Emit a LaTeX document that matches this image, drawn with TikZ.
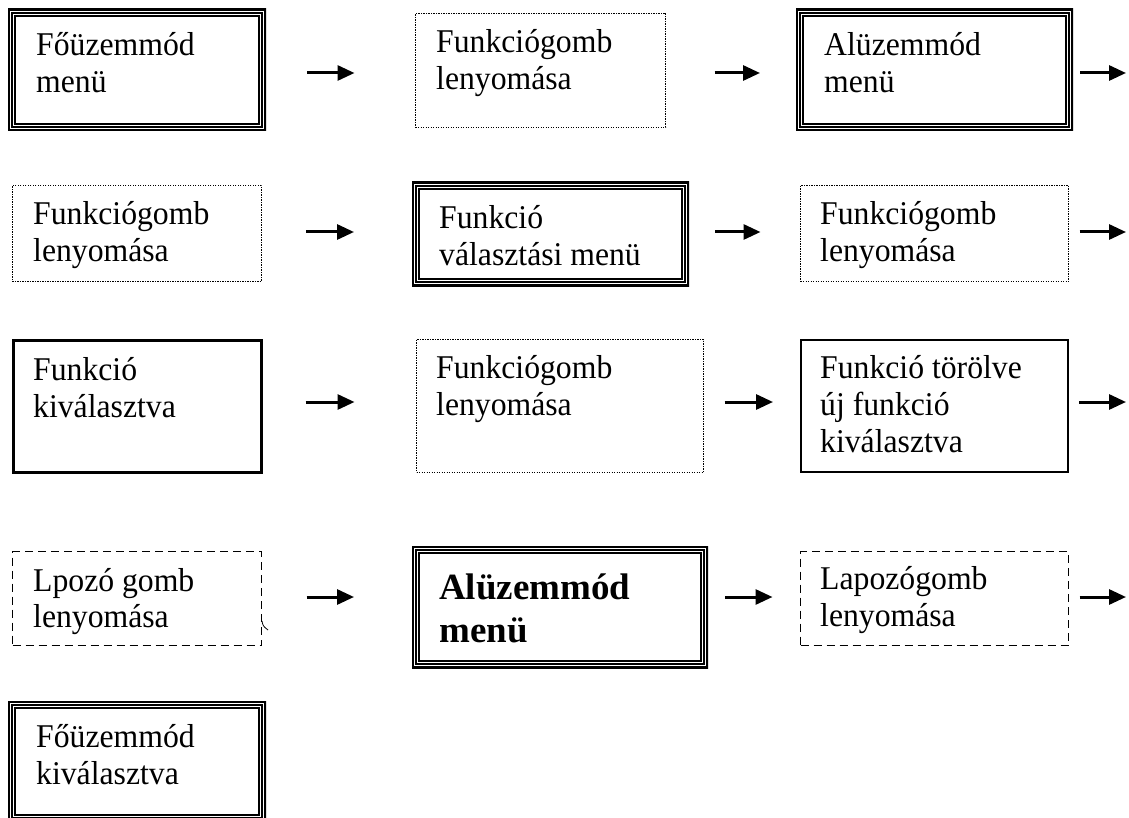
\documentclass[tikz,border=0pt]{standalone}
\usepackage{fontspec}
\setmainfont{Liberation Serif}
\newfontfamily\narrowserif[FakeStretch=0.955]{Liberation Serif}
\usetikzlibrary{arrows.meta}
\begin{document}
\begin{tikzpicture}[x=1pt,y=-1pt,
  box/.style={rectangle, inner sep=0pt, outer sep=0pt},
  tripleframe/.style={box, fill=white, path picture={
    \draw[line width=4.8pt] (path picture bounding box.north west) rectangle (path picture bounding box.south east);
    \draw[line width=1.1pt] ([shift={(4pt,-4pt)}]path picture bounding box.north west) rectangle ([shift={(-4pt,4pt)}]path picture bounding box.south east);
    \draw[line width=2.3pt] ([shift={(6.9pt,-6.9pt)}]path picture bounding box.north west) rectangle ([shift={(-6.9pt,6.9pt)}]path picture bounding box.south east);
  }},
  dotframe/.style={box, draw, line width=1.5pt, dash pattern=on 1.3pt off 1.2pt},
  dashframe/.style={box, draw, line width=1.7pt, dash pattern=on 8pt off 5pt},
  solidframe/.style={box, draw, line width=2.7pt},
  thinframe/.style={box, draw, line width=2pt},
  txt/.style={anchor=north west, inner sep=0pt, align=left, font=\narrowserif\fontsize{33.2}{37.5}\selectfont},
  boldtxt/.style={txt, font=\fontsize{37}{43}\selectfont\bfseries},
  arr/.style={line width=3pt, -{Triangle[length=17pt,width=15pt]}},
]
\fill[white] (0,0) rectangle (1129,818);
\useasboundingbox (0,0) rectangle (1129,818);

% row 1
\node[tripleframe, minimum width=258pt, minimum height=122pt] (A) at (137,70) {};
\node[txt] (tA) at (36,27) {\rule{0pt}{28pt}Főüzemmód\\menü};
\node[dotframe, minimum width=250pt, minimum height=114pt] (B) at (540.5,70.3) {};
\node[txt] (tB) at (436,24) {\rule{0pt}{28pt}Funkciógomb\\lenyomása};
\node[tripleframe, minimum width=277pt, minimum height=122pt] (C) at (934.5,70) {};
\node[txt] (tC) at (824,27) {\rule{0pt}{28pt}Alüzemmód\\menü};
\coordinate (e1) at (1126,73);

% row 2
\node[dotframe, minimum width=249pt, minimum height=96pt] (D) at (136.9,233.5) {};
\node[txt] (tD) at (33,196) {\rule{0pt}{28pt}Funkciógomb\\lenyomása};
\node[tripleframe, minimum width=277pt, minimum height=104pt] (E) at (550.5,234) {};
\node[txt] (tE) at (439,200) {\rule{0pt}{28pt}Funkció\\választási menü};
\node[dotframe, minimum width=268pt, minimum height=96pt] (F) at (934.5,233.5) {};
\node[txt] (tF) at (820,196) {\rule{0pt}{28pt}Funkciógomb\\lenyomása};
\coordinate (e2) at (1126,232);

% row 3
\node[solidframe, minimum width=248pt, minimum height=132pt] (G) at (137.5,406.5) {};
\node[txt] (tG) at (33,352) {\rule{0pt}{28pt}Funkció\\kiválasztva};
\node[dotframe, minimum width=287pt, minimum height=133pt] (H) at (560,406) {};
\node[txt] (tH) at (436,350) {\rule{0pt}{28pt}Funkciógomb\\lenyomása};
\node[thinframe, minimum width=267pt, minimum height=132pt] (I) at (934.5,406) {};
\node[txt, font=\narrowserif\fontsize{33.2}{37}\selectfont] (tI) at (820,350) {\rule{0pt}{28pt}Funkció törölve\\új funkció\\kiválasztva};
\coordinate (e3) at (1126,402);

% row 4
\node[dashframe, minimum width=249pt, minimum height=94pt] (J) at (137,598.5) {};
\node[txt, font=\narrowserif\fontsize{33.2}{36.5}\selectfont] (tJ) at (33,563) {\rule{0pt}{28pt}Lpozó gomb\\lenyomása};
\draw[line width=0.8pt] (262,621) .. controls (263,626) .. (268,630);
\node[tripleframe, minimum width=296pt, minimum height=122pt] (K) at (560,607) {};
\node[boldtxt] (tK) at (439,567) {\rule{0pt}{32pt}Alüzemmód\\menü};
\node[dashframe, minimum width=268pt, minimum height=94pt] (M) at (934.5,598.5) {};
\node[txt] (tM) at (820,561) {\rule{0pt}{28pt}Lapozógomb\\lenyomása};
\coordinate (e4) at (1126,597);

% row 5
\node[tripleframe, minimum width=258pt, minimum height=121pt] (L) at (137,761.5) {};
\node[txt, font=\narrowserif\fontsize{33.2}{37}\selectfont] (tL) at (36,719) {\rule{0pt}{28pt}Főüzemmód\\kiválasztva};

% arrows
\draw[arr, shorten <=41pt, shorten >=61pt] ([yshift=-3pt]A.east) -- ([yshift=-2.7pt]B.west);
\draw[arr, shorten <=49pt, shorten >=36pt] ([yshift=-2.7pt]B.east) -- ([yshift=-3pt]C.west);
\draw[arr, shorten <=7pt] ([yshift=-3pt]C.east) -- (e1);

\draw[arr, shorten <=45pt, shorten >=58pt] ([yshift=1.5pt]D.east) -- ([yshift=2pt]E.west);
\draw[arr, shorten <=26pt, shorten >=40pt] ([yshift=2pt]E.east) -- ([yshift=1.5pt]F.west);
\draw[arr, shorten <=11pt] ([yshift=1.5pt]F.east) -- (e2);

\draw[arr, shorten <=44pt, shorten >=62pt] ([yshift=4.5pt]G.east) -- ([yshift=4pt]H.west);
\draw[arr, shorten <=21pt, shorten >=28pt] ([yshift=4pt]H.east) -- ([yshift=4pt]I.west);
\draw[arr, shorten <=11pt] ([yshift=4pt]I.east) -- (e3);

\draw[arr, shorten <=45pt, shorten >=58pt] ([yshift=1.5pt]J.east) -- ([yshift=10pt]K.west);
\draw[arr, shorten <=17pt, shorten >=28pt] ([yshift=10pt]K.east) -- ([yshift=1.5pt]M.west);
\draw[arr, shorten <=11pt] ([yshift=1.5pt]M.east) -- (e4);
\end{tikzpicture}
\end{document}
